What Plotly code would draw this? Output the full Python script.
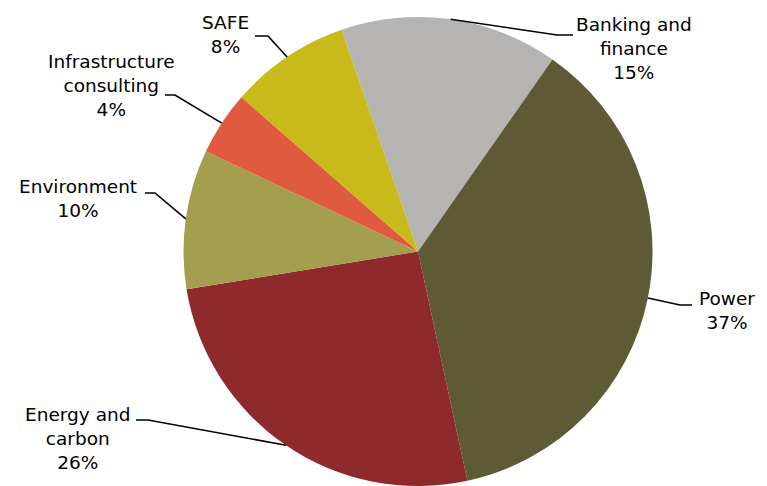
import math
import plotly.graph_objects as go

# ---- data ----
categories = ["Banking and<br>finance", "Power", "Energy and<br>carbon", "Environment",
              "Infrastructure<br>consulting", "SAFE"]
shares = [15.0, 36.9, 25.8, 9.6, 4.4, 8.3]
colors = ["#b5b4b2", "#5e5a36", "#8e292c", "#a49e4f", "#e05a40", "#c8ba1b"]

# ---- layout constants (pixels) ----
W, H = 767, 486
CX, CY, R = 418.0, 251.5, 234.5
ROTATION = -19.0
# per-label: label centre, elbow point, line end point
label_pos = [(634, 48), (727, 310), (77, 438), (78, 198), (112, 85), (225, 35)]
elbows = [(557, 35), (680, 305), (148, 420), (155, 193), (175, 95), (268, 36)]
ends = [(573, 35), (692, 305), (136, 420), (145, 193), (165, 95), (255, 36)]

def px(x, y):
    return x / W, 1 - y / H

fig = go.Figure(go.Pie(
    labels=categories, values=shares, sort=False, direction="clockwise",
    rotation=ROTATION, textinfo="none", hoverinfo="label+percent",
    marker=dict(colors=colors, line=dict(width=0)),
    domain=dict(x=[(CX - R) / W, (CX + R) / W], y=[0, 1 - (CY - R) / H]),
))

total = sum(shares)
cum = 0.0
shapes, annotations = [], []
for i, (cat, v) in enumerate(zip(categories, shares)):
    mid = ROTATION + (cum + v / 2) / total * 360
    cum += v
    a = math.radians(mid)
    sx, sy = CX + R * math.sin(a), CY - R * math.cos(a)
    ex, ey = elbows[i]
    tx, ty = ends[i]
    p0, p1, p2 = px(sx, sy), px(ex, ey), px(tx, ty)
    shapes.append(dict(type="path", xref="paper", yref="paper",
                       path=f"M {p0[0]},{p0[1]} L {p1[0]},{p1[1]} L {p2[0]},{p2[1]}",
                       line=dict(color="black", width=1.6)))
    lx, ly = px(*label_pos[i])
    annotations.append(dict(x=lx, y=ly, xref="paper", yref="paper", showarrow=False,
                            text=f"{cat}<br>{round(v / total * 100)}%",
                            xanchor="center", yanchor="middle", align="center",
                            font=dict(family="DejaVu Sans", size=18.5, color="black")))

fig.update_layout(width=W, height=H, margin=dict(l=0, r=0, t=0, b=0),
                  paper_bgcolor="white", plot_bgcolor="white", showlegend=False,
                  shapes=shapes, annotations=annotations)
fig.write_html("out.html")
